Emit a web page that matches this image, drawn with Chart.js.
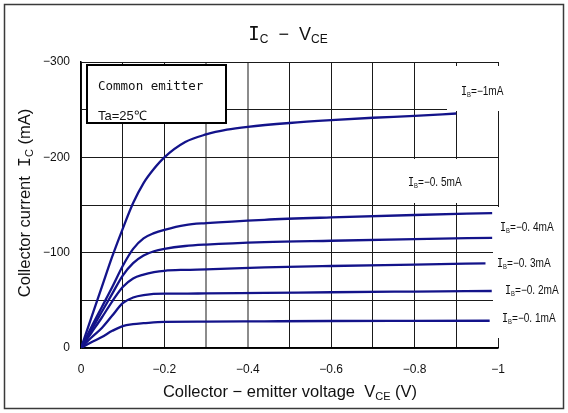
<!DOCTYPE html>
<html>
<head>
<meta charset="utf-8">
<script src="https://cdn.jsdelivr.net/npm/chart.js@4.4.0/dist/chart.umd.min.js"></script>
<style>
  html, body { margin: 0; padding: 0; background: #fff; }
  #wrap { width: 568px; height: 413px; }
</style>
</head>
<body>
<div id="wrap"><canvas id="icvce" width="568" height="413"></canvas></div>
<script>
// base current for each curve (mA)
const ibLabels = ['−1', '−0. 5', '−0. 4', '−0. 3', '−0. 2', '−0. 1'];

// collector-emitter voltage (V) / collector current (mA), one pair per curve
const vIb10 = [0, -0.025, -0.05, -0.075, -0.1, -0.125, -0.15, -0.175, -0.2, -0.25, -0.3, -0.35, -0.4, -0.5, -0.6, -0.7, -0.8, -0.9];
const iIb10 = [0, -32, -64, -96, -125, -152, -173, -188, -200, -216, -224, -229, -232, -236, -239, -241.5, -243.5, -246];

const vIb05 = [0, -0.025, -0.05, -0.075, -0.1, -0.125, -0.15, -0.175, -0.2, -0.25, -0.3, -0.44, -0.6, -0.8, -0.986];
const iIb05 = [0, -22, -43, -64, -86, -104, -115, -120.5, -124, -129, -131, -134.5, -137, -139.5, -141.5];

const vIb04 = [0, -0.025, -0.05, -0.075, -0.1, -0.125, -0.15, -0.175, -0.2, -0.25, -0.3, -0.44, -0.6, -0.8, -0.986];
const iIb04 = [0, -19, -38, -57, -76, -89, -97, -101.5, -104, -107, -108.5, -111, -112.5, -114.2, -115.6];

const vIb03 = [0, -0.025, -0.05, -0.075, -0.1, -0.125, -0.15, -0.175, -0.2, -0.25, -0.3, -0.44, -0.6, -0.8, -0.97];
const iIb03 = [0, -16, -32, -49, -64, -73, -77, -79.5, -81, -82, -82.5, -84.5, -86, -87.5, -88.8];

const vIb02 = [0, -0.025, -0.05, -0.075, -0.1, -0.125, -0.15, -0.2, -0.25, -0.3, -0.44, -0.6, -0.8, -0.985];
const iIb02 = [0, -11, -21, -34, -47, -53, -55.5, -57, -57, -57.3, -57.8, -58.5, -59.2, -59.8];

const vIb01 = [0, -0.025, -0.05, -0.075, -0.1, -0.125, -0.15, -0.2, -0.3, -0.44, -0.6, -0.8, -0.98];
const iIb01 = [0, -6, -11.6, -18, -23, -25, -26, -27.5, -27.7, -28, -28.3, -28.5, -28.6];

const xTickLabels = ['0', '−0.2', '−0.4', '−0.6', '−0.8', '−1'];
const yTickLabels = ['0', '−100', '−200', '−300'];

const curveColor = '#13138a';
const sans = '"Liberation Sans", Arial, sans-serif';
const mono = '"DejaVu Sans Mono", monospace';

function pts(vs, is) {
  return vs.map((v, k) => ({ x: v, y: is[k] }));
}

const curves = [
  pts(vIb10, iIb10), pts(vIb05, iIb05), pts(vIb04, iIb04),
  pts(vIb03, iIb03), pts(vIb02, iIb02), pts(vIb01, iIb01)
];

// draw a run of text pieces (normal / subscript) starting at x
function drawRun(ctx, parts, x, y, align) {
  let w = 0;
  parts.forEach(p => { ctx.font = p.font; w += ctx.measureText(p.t).width; });
  let cx = align === 'center' ? x - w / 2 : (align === 'right' ? x - w : x);
  ctx.textBaseline = 'alphabetic';
  ctx.textAlign = 'left';
  parts.forEach(p => {
    ctx.font = p.font;
    ctx.fillText(p.t, cx, y + (p.dy || 0));
    cx += ctx.measureText(p.t).width;
  });
}

// narrow "IB=..mA" tag
function ibLabel(ctx, text, x, y) {
  ctx.save();
  ctx.translate(x, y);
  ctx.scale(0.84, 1);
  drawRun(ctx, [
    { t: 'I', font: '12px ' + mono },
    { t: 'B', font: '7px ' + sans, dy: 2 },
    { t: '=' + text + 'mA', font: '12px ' + sans }
  ], 0, 0, 'left');
  ctx.restore();
}

// white patches where the curve labels sit
const labelBoxes = [
  { x: 447, y: 66, w: 73, h: 45 },
  { x: 400, y: 159, w: 70, h: 44 },
  { x: 493, y: 207, w: 72, h: 131 }
];
const labelPos = [
  { tx: 461, ty: 95 }, { tx: 408, ty: 186 },
  { tx: 500, ty: 231 }, { tx: 497, ty: 267 }, { tx: 505, ty: 294 }, { tx: 502, ty: 322 }
];

const decor = {
  id: 'decor',
  beforeDatasetsDraw(chart) {
    const ctx = chart.ctx;
    ctx.save();
    ctx.fillStyle = '#fff';
    labelBoxes.forEach(b => ctx.fillRect(b.x, b.y, b.w, b.h));

    ctx.fillStyle = '#111';
    labelPos.forEach((p, k) => ibLabel(ctx, ibLabels[k], p.tx, p.ty));

    // measurement condition box
    ctx.fillStyle = '#fff';
    ctx.fillRect(86, 64, 141, 60);
    ctx.strokeStyle = '#000';
    ctx.lineWidth = 2;
    ctx.strokeRect(87, 65, 139, 58);
    ctx.fillStyle = '#111';
    ctx.textAlign = 'left';
    ctx.textBaseline = 'middle';
    ctx.font = '12.5px ' + mono;
    ctx.fillText('Common emitter', 98, 87);
    ctx.font = '13px ' + sans;
    ctx.fillText('Ta=25℃', 98, 116);
    ctx.restore();
  },
  afterDraw(chart) {
    const ctx = chart.ctx;
    ctx.save();
    ctx.fillStyle = '#111';
    // title
    drawRun(ctx, [
      { t: 'I', font: '19px ' + mono },
      { t: 'C', font: '12px ' + sans, dy: 3 },
      { t: '  −  ', font: '18px ' + sans },
      { t: 'V', font: '18px ' + sans },
      { t: 'CE', font: '12px ' + sans, dy: 3 }
    ], 288, 40, 'center');

    // x axis title
    drawRun(ctx, [
      { t: 'Collector − emitter voltage  ', font: '16.5px ' + sans },
      { t: 'V', font: '16.5px ' + sans },
      { t: 'CE', font: '11px ' + sans, dy: 3 },
      { t: ' (V)', font: '16.5px ' + sans }
    ], 290, 397, 'center');

    // y axis title
    ctx.translate(30, 203);
    ctx.rotate(-Math.PI / 2);
    drawRun(ctx, [
      { t: 'Collector current  ', font: '16.5px ' + sans },
      { t: 'I', font: '16.5px ' + mono },
      { t: 'C', font: '11px ' + sans, dy: 3 },
      { t: ' (mA)', font: '16.5px ' + sans }
    ], 0, 0, 'center');
    ctx.restore();

    // outer frame
    ctx.save();
    ctx.strokeStyle = '#3a3a3a';
    ctx.lineWidth = 1.5;
    ctx.strokeRect(4.5, 4.5, 559, 404);
    ctx.restore();
  }
};

function isGrayTick(v) {
  const n = Math.round(-v * 10);
  return n === 3 || n === 4;
}

new Chart(document.getElementById('icvce'), {
  type: 'line',
  data: {
    datasets: curves.map((c, k) => ({
      label: 'IB=' + ibLabels[k] + 'mA',
      data: c,
      borderColor: curveColor,
      borderWidth: 2.3,
      pointRadius: 0,
      fill: false,
      cubicInterpolationMode: 'monotone'
    }))
  },
  options: {
    responsive: false,
    animation: false,
    layout: { padding: { top: 62, right: 70, left: 0, bottom: 0 } },
    plugins: { legend: { display: false }, tooltip: { enabled: false } },
    scales: {
      x: {
        type: 'linear',
        min: -1, max: 0, reverse: true,
        afterFit(s) { s.height = 65; },
        border: { color: '#000', width: 1.5 },
        grid: {
          drawTicks: false,
          color: ctx => isGrayTick(ctx.tick.value) ? '#8c8c8c' : '#1a1a1a',
          lineWidth: ctx => isGrayTick(ctx.tick.value) ? 2 : 1
        },
        ticks: {
          stepSize: 0.1,
          padding: 14,
          color: '#111',
          font: { family: sans, size: 12 },
          maxRotation: 0,
          autoSkip: false,
          callback(v) {
            const n = Math.round(-v * 10);
            return n % 2 === 0 ? xTickLabels[n / 2] : '';
          }
        }
      },
      y: {
        min: -300, max: 0, reverse: true,
        afterFit(s) { s.width = 81; },
        border: { color: '#000', width: 1.5 },
        grid: { drawTicks: false, color: '#1a1a1a', lineWidth: 1 },
        ticks: {
          stepSize: 50,
          padding: 11,
          color: '#111',
          font: { family: sans, size: 12 },
          autoSkip: false,
          callback(v) {
            const n = Math.round(-v / 50);
            return n % 2 === 0 ? yTickLabels[n / 2] : '';
          }
        }
      }
    }
  },
  plugins: [decor]
});
</script>
</body>
</html>
